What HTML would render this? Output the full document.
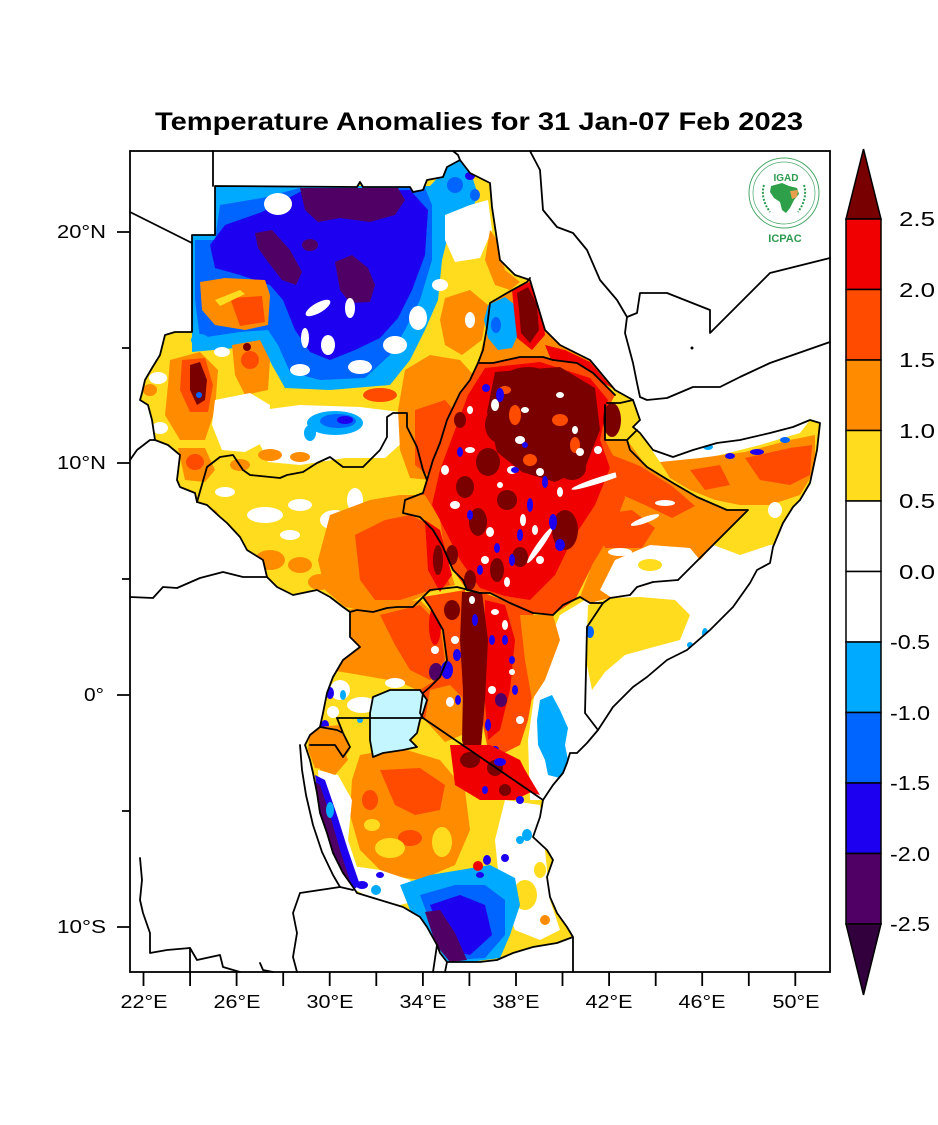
<!DOCTYPE html>
<html><head><meta charset="utf-8"><style>
html,body{margin:0;padding:0;background:#fff;}
svg{display:block;}
text{font-family:"Liberation Sans",Arial,sans-serif;}
</style></head><body>
<svg width="938" height="1125" viewBox="0 0 938 1125" xmlns="http://www.w3.org/2000/svg">
<defs>
<clipPath id="land"><path d="M215,186 L357,187 L360,182 L363,187 L410,187 L413,192 L423,190 L427,180 L443,177 L447,167 L460,160 L470,173 L490,183 L492,207 L500,260 L515,275 L530,280 L545,330 L560,345 L590,360 L615,390 L633,400 L640,420 L633,427 L640,433 L653,450 L673,457 L693,450 L717,443 L740,440 L770,433 L793,427 L810,420 L820,423 L817,450 L810,483 L800,500 L793,507 L783,523 L773,547 L770,563 L757,570 L750,583 L733,607 L710,630 L687,650 L667,660 L647,677 L633,687 L613,707 L598,730 L587,743 L577,753 L570,753 L567,763 L563,773 L553,785 L543,800 L540,817 L533,837 L547,850 L553,860 L547,877 L550,897 L557,913 L567,927 L573,937 L557,943 L533,947 L513,953 L497,960 L480,962 L460,962 L447,962 L440,953 L437,945 L427,927 L420,917 L403,907 L380,900 L357,893 L353,887 L343,873 L333,853 L327,833 L320,813 L317,793 L313,773 L310,760 L305,745 L310,735 L320,727 L323,713 L327,693 L333,677 L343,660 L360,647 L350,637 L350,612 L343,607 L330,597 L317,590 L293,595 L277,587 L267,577 L263,560 L247,550 L240,537 L227,523 L220,517 L207,505 L197,502 L195,493 L180,487 L177,480 L180,455 L168,445 L155,440 L152,420 L148,405 L140,400 L142,393 L145,380 L152,368 L160,355 L165,335 L175,332 L192,332 L192,235 L215,235 Z"/></clipPath>
</defs>

<text x="479" y="130" font-size="25" font-weight="bold" text-anchor="middle" textLength="648" lengthAdjust="spacingAndGlyphs">Temperature Anomalies for 31 Jan-07 Feb 2023</text>

<g clip-path="url(#land)">
<rect x="130" y="151" width="700" height="821" fill="#ffdc1e"/>
<!-- white Somalia / E Kenya -->
<path fill="#fff" d="M530,800 L528,740 L535,690 L545,650 L560,615 L585,600 L615,590 L640,575 L660,545 L700,540 L740,555 L770,545 L830,540 L830,800 Z"/>
<path fill="#ffdc1e" d="M588,605 L610,598 L640,597 L675,600 L690,615 L680,640 L650,648 L625,655 L605,672 L592,690 L586,660 Z"/>
<g fill="#00aaff"><ellipse cx="705" cy="633" rx="3" ry="5"/><ellipse cx="690" cy="645" rx="3" ry="3"/><ellipse cx="650" cy="678" rx="3" ry="3"/><ellipse cx="670" cy="665" rx="3" ry="3"/><ellipse cx="625" cy="700" rx="3" ry="3"/></g>
<ellipse cx="590" cy="632" rx="4" ry="6" fill="#0064ff"/>
<path fill="#00aaff" d="M540,700 L552,695 L560,710 L568,728 L565,745 L570,770 L560,778 L548,775 L545,760 L538,745 L537,720 Z"/>

<!-- North Sudan -->
<path fill="#00aaff" d="M192,235 L215,235 L215,186 L430,186 L447,168 L460,160 L472,176 L478,195 L470,215 L450,228 L442,260 L438,300 L425,330 L410,360 L390,385 L330,390 L285,388 L272,365 L262,345 L235,348 L192,352 Z"/>
<path fill="#fff" d="M445,215 L470,205 L488,200 L492,230 L480,258 L455,262 L445,240 Z"/>
<path fill="#0064ff" d="M195,240 L215,240 L220,205 L262,198 L300,188 L425,188 L432,205 L432,260 L420,300 L405,330 L390,355 L365,378 L320,380 L290,372 L278,345 L268,330 L240,332 L200,338 L195,300 Z"/>
<path fill="#1e00f0" d="M225,225 L262,212 L300,192 L410,190 L428,210 L425,255 L412,290 L398,318 L380,338 L355,350 L330,360 L310,352 L295,330 L283,300 L270,285 L240,275 L215,268 L210,245 Z"/>
<ellipse cx="278" cy="204" rx="14" ry="11" fill="#fff"/>
<g fill="#500064">
<path d="M300,188 L398,188 L405,200 L395,215 L370,222 L340,218 L318,222 L305,210 Z"/>
<path d="M255,233 L272,230 L290,250 L302,272 L296,285 L282,280 L268,262 L258,248 Z"/>
<path d="M335,262 L352,255 L368,268 L375,285 L370,302 L350,303 L340,290 Z"/>
<ellipse cx="310" cy="245" rx="8" ry="6"/>
</g>
<g fill="#fff">
<ellipse cx="318" cy="308" rx="14" ry="5" transform="rotate(-30 318 308)"/>
<ellipse cx="350" cy="308" rx="5" ry="10"/>
<ellipse cx="305" cy="338" rx="4" ry="10"/>
<ellipse cx="328" cy="345" rx="7" ry="10"/>
<ellipse cx="360" cy="367" rx="12" ry="7"/>
<ellipse cx="395" cy="345" rx="12" ry="9"/>
<ellipse cx="418" cy="318" rx="9" ry="12"/>
<ellipse cx="300" cy="370" rx="10" ry="6"/>
<ellipse cx="440" cy="285" rx="8" ry="6"/>
</g>
<g fill="#0064ff"><ellipse cx="455" cy="185" rx="8" ry="8"/><ellipse cx="475" cy="195" rx="5" ry="6"/></g>
<ellipse cx="470" cy="176" rx="5" ry="4" fill="#1e00f0"/>
<!-- NW orange block -->
<path fill="#ff8c00" d="M200,282 L225,278 L265,280 L270,295 L268,325 L245,330 L215,325 L202,310 Z"/>
<path fill="#ff4b00" d="M230,298 L262,296 L265,322 L240,326 Z"/>
<path fill="#ffdc1e" d="M215,300 L240,290 L245,294 L220,306 Z"/>
<!-- Darfur -->
<ellipse cx="200" cy="340" rx="9" ry="6" fill="#00aaff"/>
<path fill="#ff8c00" d="M170,360 L200,352 L218,370 L215,410 L205,440 L180,440 L165,415 L168,385 Z"/>
<path fill="#ff4b00" d="M182,360 L205,358 L213,385 L208,412 L190,412 L180,390 Z"/>
<path fill="#7a0000" d="M190,365 L200,362 L207,380 L205,400 L197,405 L190,390 Z"/>
<ellipse cx="199" cy="395" rx="3" ry="3" fill="#0064ff"/>
<path fill="#ff8c00" d="M232,345 L260,340 L270,360 L268,390 L245,395 L235,375 Z"/>
<ellipse cx="250" cy="360" rx="9" ry="9" fill="#ff4b00"/>
<ellipse cx="247" cy="347" rx="4" ry="4" fill="#7a0000"/>
<ellipse cx="150" cy="390" rx="7" ry="6" fill="#ff8c00"/>
<g fill="#fff"><ellipse cx="158" cy="378" rx="9" ry="6"/><ellipse cx="222" cy="352" rx="8" ry="5"/><ellipse cx="160" cy="428" rx="8" ry="6"/></g>
<path fill="#fff" d="M215,400 L250,393 L270,405 L268,440 L245,452 L222,450 L212,425 Z"/>
<path fill="#ff8c00" d="M178,448 L205,448 L215,470 L205,482 L185,480 Z"/>
<ellipse cx="195" cy="462" rx="9" ry="8" fill="#ff4b00"/>
<!-- Central Sudan -->
<ellipse cx="380" cy="395" rx="17" ry="7" fill="#ff4b00"/>
<path fill="#fff" d="M262,410 L300,405 L360,407 L400,412 L405,440 L385,458 L345,458 L300,465 L268,462 L258,440 Z"/>
<ellipse cx="335" cy="423" rx="28" ry="12" fill="#00aaff"/>
<ellipse cx="338" cy="421" rx="18" ry="7" fill="#0064ff"/>
<ellipse cx="345" cy="420" rx="8" ry="4" fill="#1e00f0"/>
<ellipse cx="310" cy="433" rx="6" ry="8" fill="#00aaff"/>
<ellipse cx="270" cy="455" rx="12" ry="6" fill="#ff8c00"/>
<ellipse cx="300" cy="457" rx="10" ry="5" fill="#ff8c00"/>
<ellipse cx="240" cy="465" rx="10" ry="6" fill="#ff8c00"/>
<!-- East Sudan -->
<path fill="#ff8c00" d="M445,298 L470,290 L488,305 L482,340 L462,355 L445,345 L440,320 Z"/>
<path fill="#ff8c00" d="M405,370 L430,355 L460,360 L478,380 L470,420 L455,450 L440,470 L430,480 L410,478 L400,450 L398,410 Z"/>
<path fill="#ff4b00" d="M415,410 L445,400 L462,420 L450,455 L432,478 L415,465 Z"/>
<path fill="#ff8c00" d="M490,230 L497,240 L505,270 L520,282 L510,290 L495,285 L485,260 Z"/>
<ellipse cx="470" cy="320" rx="5" ry="8" fill="#fff"/>
<!-- Eritrea -->
<path fill="#ff8c00" d="M490,303 L507,293 L530,280 L545,330 L560,345 L590,360 L615,390 L603,383 L593,373 L577,363 L553,360 L543,357 L520,357 L493,363 L478,363 L487,327 Z"/>
<path fill="#00aaff" d="M488,305 L505,297 L515,305 L520,330 L512,348 L498,350 L488,338 L484,320 Z"/>
<ellipse cx="496" cy="325" rx="5" ry="8" fill="#0064ff"/>
<path fill="#f00000" d="M512,290 L530,282 L542,305 L545,335 L532,350 L517,338 L514,310 Z"/>
<path fill="#7a0000" d="M517,293 L528,287 L537,305 L539,330 L530,343 L521,333 L519,310 Z"/>
<path fill="#f00000" d="M545,345 L565,350 L590,362 L612,388 L595,378 L575,368 L552,362 Z"/>
<!-- Ethiopia -->
<path fill="#ff4b00" d="M478,363 L493,363 L520,357 L543,357 L553,360 L577,363 L593,373 L603,383 L615,395 L607,410 L605,440 L627,440 L640,470 L630,510 L610,540 L590,570 L575,600 L553,615 L533,613 L510,603 L490,593 L467,590 L453,570 L443,547 L433,530 L420,517 L403,513 L405,500 L423,493 L427,480 L433,460 L447,420 L460,393 L470,380 Z"/>
<path fill="#f00000" d="M485,368 L540,362 L590,378 L608,400 L600,440 L610,468 L595,505 L572,540 L555,575 L530,600 L505,596 L480,588 L460,560 L445,530 L432,505 L440,470 L455,430 L468,395 Z"/>
<path fill="#7a0000" d="M495,372 L560,367 L595,388 L600,430 L585,468 L555,482 L522,472 L497,452 L487,412 Z"/>
<g fill="#7a0000">
<ellipse cx="528" cy="387" rx="30" ry="20"/>
<ellipse cx="500" cy="425" rx="15" ry="18"/>
<ellipse cx="545" cy="440" rx="22" ry="25"/>
<ellipse cx="572" cy="468" rx="14" ry="12"/>
<ellipse cx="612" cy="420" rx="9" ry="17"/>
<ellipse cx="585" cy="410" rx="10" ry="10"/>
<ellipse cx="488" cy="462" rx="12" ry="14"/>
<ellipse cx="465" cy="487" rx="9" ry="11"/>
<ellipse cx="478" cy="522" rx="9" ry="14"/>
<ellipse cx="507" cy="500" rx="10" ry="10"/>
<ellipse cx="565" cy="530" rx="13" ry="20"/>
<ellipse cx="452" cy="555" rx="6" ry="10"/>
<ellipse cx="520" cy="557" rx="8" ry="10"/>
<ellipse cx="497" cy="570" rx="7" ry="12"/>
<ellipse cx="470" cy="580" rx="6" ry="10"/>
<ellipse cx="460" cy="420" rx="6" ry="8"/>
</g>
<g fill="#ff4b00">
<ellipse cx="515" cy="415" rx="6" ry="10"/><ellipse cx="560" cy="420" rx="8" ry="6"/><ellipse cx="530" cy="460" rx="7" ry="6"/>
<ellipse cx="575" cy="445" rx="5" ry="8"/><ellipse cx="505" cy="390" rx="6" ry="4"/>
</g>
<g fill="#fff">
<ellipse cx="495" cy="405" rx="4" ry="6"/><ellipse cx="520" cy="440" rx="5" ry="4"/><ellipse cx="540" cy="472" rx="4" ry="4"/>
<ellipse cx="470" cy="450" rx="5" ry="3"/><ellipse cx="580" cy="452" rx="4" ry="4"/><ellipse cx="512" cy="470" rx="5" ry="4"/>
<ellipse cx="455" cy="505" rx="5" ry="4"/><ellipse cx="490" cy="532" rx="4" ry="5"/><ellipse cx="523" cy="520" rx="3" ry="6"/>
<ellipse cx="540" cy="560" rx="4" ry="4"/><ellipse cx="560" cy="492" rx="3" ry="5"/><ellipse cx="598" cy="450" rx="4" ry="4"/>
<ellipse cx="525" cy="410" rx="4" ry="3"/><ellipse cx="485" cy="560" rx="4" ry="4"/><ellipse cx="507" cy="582" rx="3" ry="5"/>
<ellipse cx="470" cy="410" rx="3" ry="4"/><ellipse cx="560" cy="395" rx="4" ry="3"/><ellipse cx="445" cy="470" rx="4" ry="5"/>
<ellipse cx="500" cy="485" rx="3" ry="3"/><ellipse cx="535" cy="530" rx="3" ry="5"/><ellipse cx="575" cy="430" rx="3" ry="4"/>
<ellipse cx="600" cy="480" rx="30" ry="3" transform="rotate(-18 600 480)"/>
<ellipse cx="540" cy="545" rx="22" ry="3" transform="rotate(-55 540 545)"/>
</g>
<g fill="#1e00f0">
<ellipse cx="500" cy="395" rx="4" ry="7"/><ellipse cx="460" cy="452" rx="3" ry="5"/><ellipse cx="515" cy="470" rx="4" ry="3"/>
<ellipse cx="545" cy="482" rx="3" ry="6"/><ellipse cx="530" cy="505" rx="3" ry="7"/><ellipse cx="553" cy="522" rx="4" ry="8"/>
<ellipse cx="560" cy="545" rx="5" ry="6"/><ellipse cx="520" cy="535" rx="3" ry="6"/><ellipse cx="497" cy="548" rx="3" ry="5"/>
<ellipse cx="470" cy="515" rx="3" ry="5"/><ellipse cx="525" cy="445" rx="3" ry="3"/><ellipse cx="480" cy="570" rx="3" ry="5"/>
<ellipse cx="512" cy="560" rx="3" ry="6"/><ellipse cx="486" cy="388" rx="4" ry="4"/>
</g>
<!-- East Ethiopia -->
<path fill="#ff8c00" d="M605,440 L627,440 L647,467 L673,483 L697,497 L727,510 L748,510 L720,538 L700,560 L678,580 L653,582 L630,595 L610,598 L590,603 L580,597 L592,565 L612,532 L625,498 L618,465 Z"/>
<path fill="#ff4b00" d="M612,455 L640,466 L672,486 L695,506 L672,518 L645,505 L620,494 Z"/>
<path fill="#ff4b00" d="M595,515 L632,510 L655,528 L642,548 L605,548 Z"/>
<g fill="#fff"><ellipse cx="645" cy="520" rx="15" ry="3" transform="rotate(-20 645 520)"/><ellipse cx="665" cy="503" rx="10" ry="3"/><ellipse cx="620" cy="552" rx="12" ry="4"/></g>
<path fill="#fff" d="M615,560 L650,545 L690,548 L700,560 L680,580 L653,582 L630,595 L612,598 L600,590 Z"/>
<ellipse cx="650" cy="565" rx="12" ry="6" fill="#ffdc1e"/>
<!-- Somaliland / Puntland -->
<path fill="#fff" d="M640,433 L653,450 L673,457 L693,450 L717,443 L740,440 L770,433 L793,427 L810,420 L800,433 L760,445 L720,455 L690,462 L660,462 Z"/>
<path fill="#ff8c00" d="M660,462 L700,458 L745,452 L790,440 L815,435 L815,470 L800,495 L770,505 L740,505 L715,500 L690,490 L670,478 Z"/>
<path fill="#ff4b00" d="M745,458 L790,448 L812,445 L810,475 L790,485 L760,480 Z"/>
<path fill="#ff4b00" d="M690,470 L720,465 L730,485 L705,490 Z"/>
<ellipse cx="757" cy="452" rx="7" ry="3" fill="#1e00f0"/>
<ellipse cx="730" cy="456" rx="5" ry="3" fill="#1e00f0"/>
<ellipse cx="785" cy="440" rx="5" ry="3" fill="#0064ff"/>
<ellipse cx="708" cy="447" rx="5" ry="3" fill="#00aaff"/>
<ellipse cx="775" cy="510" rx="7" ry="8" fill="#fff"/>
<!-- South Sudan -->
<g fill="#fff"><ellipse cx="265" cy="515" rx="18" ry="8"/><ellipse cx="300" cy="505" rx="12" ry="6"/><ellipse cx="335" cy="520" rx="15" ry="10"/><ellipse cx="355" cy="500" rx="8" ry="12"/><ellipse cx="290" cy="535" rx="10" ry="5"/><ellipse cx="225" cy="492" rx="10" ry="5"/></g>
<g fill="#ff8c00"><ellipse cx="270" cy="560" rx="15" ry="10"/><ellipse cx="300" cy="565" rx="12" ry="8"/><ellipse cx="235" cy="545" rx="8" ry="6"/><ellipse cx="320" cy="582" rx="12" ry="8"/><ellipse cx="210" cy="515" rx="8" ry="6"/></g>
<path fill="#ff8c00" d="M330,515 L370,500 L400,495 L425,495 L440,520 L445,555 L455,585 L430,592 L400,607 L370,612 L345,607 L325,590 L318,560 Z"/>
<path fill="#ff4b00" d="M355,535 L385,520 L410,515 L430,525 L440,555 L450,585 L425,592 L400,600 L375,600 L360,580 Z"/>
<path fill="#f00000" d="M425,520 L440,530 L452,575 L440,592 L428,570 Z"/>
<ellipse cx="438" cy="560" rx="5" ry="15" fill="#7a0000"/>
<!-- Uganda -->
<path fill="#ff8c00" d="M345,610 L380,605 L420,600 L440,620 L447,655 L440,680 L420,690 L380,688 L345,680 L330,665 L340,640 Z"/>
<path fill="#ff4b00" d="M380,615 L420,605 L440,625 L445,660 L430,680 L410,670 L395,645 Z"/>
<ellipse cx="435" cy="625" rx="6" ry="20" fill="#f00000"/>
<path fill="#ffdc1e" d="M330,670 L360,675 L400,682 L423,693 L423,718 L323,718 L327,690 Z"/>
<g fill="#fff"><ellipse cx="340" cy="690" rx="10" ry="10"/><ellipse cx="362" cy="705" rx="15" ry="8"/><ellipse cx="333" cy="712" rx="6" ry="6"/><ellipse cx="395" cy="683" rx="10" ry="5"/></g>
<g fill="#00aaff"><ellipse cx="343" cy="695" rx="3" ry="5"/><ellipse cx="360" cy="720" rx="3" ry="3"/></g>
<ellipse cx="436" cy="672" rx="7" ry="9" fill="#500064"/>
<ellipse cx="330" cy="693" rx="4" ry="6" fill="#1e00f0"/>
<ellipse cx="325" cy="725" rx="4" ry="5" fill="#1e00f0"/>
<path fill="#ff8c00" d="M310,728 L340,725 L350,750 L335,770 L315,768 L308,750 Z"/>
<!-- Kenya -->
<path fill="#ff4b00" d="M423,597 L465,590 L468,650 L465,720 L445,740 L423,718 L420,690 L440,677 L447,660 L443,630 Z"/>
<path fill="#ff8c00" d="M430,690 L450,685 L465,700 L462,735 L445,742 L425,720 Z"/>
<path fill="#ff4b00" d="M482,592 L510,603 L533,613 L540,640 L535,680 L528,720 L520,745 L490,760 L482,720 L488,660 Z"/>
<path fill="#ff8c00" d="M520,615 L553,615 L560,640 L545,680 L532,700 L525,660 Z"/>
<path fill="#f00000" d="M485,600 L505,605 L515,640 L510,690 L500,730 L488,740 L484,690 Z"/>
<path fill="#7a0000" d="M462,592 L482,592 L488,640 L485,700 L480,760 L470,775 L462,740 L463,690 L460,640 Z"/>
<path fill="#f00000" d="M470,745 L500,750 L525,770 L540,795 L520,790 L490,780 L475,770 Z"/>
<g fill="#7a0000"><ellipse cx="500" cy="765" rx="10" ry="8"/><ellipse cx="452" cy="610" rx="8" ry="10"/></g>
<g fill="#1e00f0">
<ellipse cx="503" cy="765" rx="5" ry="4"/><ellipse cx="447" cy="670" rx="6" ry="9"/><ellipse cx="457" cy="655" rx="4" ry="6"/>
<ellipse cx="475" cy="620" rx="3" ry="6"/><ellipse cx="492" cy="640" rx="3" ry="5"/><ellipse cx="505" cy="640" rx="3" ry="5"/>
<ellipse cx="515" cy="690" rx="3" ry="5"/><ellipse cx="488" cy="725" rx="3" ry="6"/><ellipse cx="495" cy="750" rx="4" ry="4"/>
<ellipse cx="458" cy="700" rx="3" ry="5"/><ellipse cx="512" cy="660" rx="3" ry="4"/>
</g>
<ellipse cx="501" cy="700" rx="6" ry="7" fill="#500064"/>
<g fill="#fff">
<ellipse cx="472" cy="600" rx="3" ry="4"/><ellipse cx="495" cy="612" rx="4" ry="3"/><ellipse cx="505" cy="625" rx="3" ry="5"/>
<ellipse cx="455" cy="640" rx="4" ry="4"/><ellipse cx="492" cy="690" rx="4" ry="4"/><ellipse cx="512" cy="672" rx="3" ry="3"/>
<ellipse cx="520" cy="720" rx="4" ry="4"/><ellipse cx="450" cy="702" rx="4" ry="5"/><ellipse cx="435" cy="650" rx="4" ry="4"/>
</g>
<!-- Tanzania -->
<path fill="#ff8c00" d="M360,755 L400,748 L440,760 L465,790 L470,830 L455,865 L420,880 L385,875 L360,850 L350,815 L352,780 Z"/>
<path fill="#ff4b00" d="M380,770 L420,768 L445,785 L440,810 L415,815 L395,805 Z"/>
<g fill="#ff4b00"><ellipse cx="410" cy="838" rx="12" ry="8"/><ellipse cx="370" cy="800" rx="8" ry="10"/></g>
<g fill="#ffdc1e"><ellipse cx="390" cy="848" rx="15" ry="10"/><ellipse cx="442" cy="842" rx="10" ry="15"/><ellipse cx="372" cy="825" rx="8" ry="6"/></g>
<path fill="#fff" d="M318,770 L338,775 L352,800 L348,840 L358,870 L345,880 L330,850 L320,815 Z"/>
<path fill="#fff" d="M505,800 L540,805 L545,850 L550,900 L560,930 L540,940 L515,930 L500,890 L495,840 Z"/>
<g fill="#ffdc1e"><ellipse cx="525" cy="895" rx="12" ry="15"/><ellipse cx="540" cy="870" rx="6" ry="8"/></g>
<ellipse cx="545" cy="920" rx="5" ry="5" fill="#ff8c00"/>
<path fill="#fff" d="M345,865 L380,870 L410,880 L420,900 L400,905 L370,897 L355,890 Z"/>
<path fill="#00aaff" d="M400,885 L430,875 L460,870 L490,865 L515,878 L520,905 L510,935 L500,958 L470,962 L447,962 L430,935 L410,910 Z"/>
<path fill="#0064ff" d="M420,895 L455,885 L485,885 L505,900 L505,935 L485,958 L455,960 L435,935 Z"/>
<path fill="#1e00f0" d="M430,905 L460,895 L485,905 L492,935 L470,955 L448,950 Z"/>
<path fill="#500064" d="M425,912 L440,910 L455,933 L467,960 L450,962 L436,945 Z"/>
<path fill="#1e00f0" d="M315,775 L325,780 L337,815 L348,850 L360,885 L350,892 L335,860 L322,825 Z"/>
<path fill="#500064" d="M312,780 L320,785 L330,815 L340,850 L352,887 L343,888 L332,862 L320,830 L313,800 Z"/>
<g fill="#1e00f0"><ellipse cx="362" cy="885" rx="6" ry="4"/><ellipse cx="380" cy="875" rx="4" ry="3"/></g>
<ellipse cx="376" cy="890" rx="5" ry="5" fill="#00aaff"/>
<path fill="#f00000" d="M450,745 L490,745 L520,760 L535,790 L515,800 L480,800 L455,785 Z"/>
<g fill="#7a0000"><ellipse cx="470" cy="760" rx="10" ry="8"/><ellipse cx="495" cy="768" rx="8" ry="8"/><ellipse cx="505" cy="790" rx="6" ry="6"/></g>
<g fill="#1e00f0"><ellipse cx="500" cy="762" rx="6" ry="4"/><ellipse cx="485" cy="790" rx="3" ry="4"/><ellipse cx="520" cy="800" rx="4" ry="4"/><ellipse cx="487" cy="860" rx="4" ry="5"/><ellipse cx="505" cy="858" rx="4" ry="4"/><ellipse cx="480" cy="875" rx="4" ry="3"/></g>
<ellipse cx="478" cy="866" rx="5" ry="5" fill="#f00000"/>
<g fill="#00aaff"><ellipse cx="520" cy="840" rx="4" ry="4"/><ellipse cx="527" cy="835" rx="5" ry="6"/><ellipse cx="330" cy="810" rx="4" ry="8"/></g>
<path fill="#ff8c00" d="M318,740 L340,738 L348,760 L335,775 L320,770 Z"/>
</g>

<!-- Lake Victoria -->
<path d="M373,697 L390,690 L420,690 L427,700 L423,713 L420,720 L417,733 L410,740 L417,747 L403,750 L383,753 L373,757 L370,740 L370,713 Z" fill="#c4f6ff" stroke="#000" stroke-width="1.8" stroke-linejoin="round"/>

<!-- borders -->
<g fill="none" stroke="#000" stroke-width="1.8" stroke-linejoin="round" stroke-linecap="round">
<path d="M215,186 L357,187 L360,182 L363,187 L410,187 L413,192 L423,190 L427,180 L443,177 L447,167 L460,160 L470,173 L490,183 L492,207 L500,260 L515,275 L530,280 L545,330 L560,345 L590,360 L615,390 L633,400 L640,420 L633,427 L640,433 L653,450 L673,457 L693,450 L717,443 L740,440 L770,433 L793,427 L810,420 L820,423 L817,450 L810,483 L800,500 L793,507 L783,523 L773,547 L770,563 L757,570 L750,583 L733,607 L710,630 L687,650 L667,660 L647,677 L633,687 L613,707 L598,730 L587,743 L577,753 L570,753 L567,763 L563,773 L553,785 L543,800 L540,817 L533,837 L547,850 L553,860 L547,877 L550,897 L557,913 L567,927 L573,937 L573,972 M573,937 L557,943 L533,947 L513,953 L497,960 L480,962 L460,962 L447,962 L440,953 L437,945 L427,927 L420,917 L403,907 L380,900 L357,893 L353,887 L343,873 L333,853 L327,833 L320,813 L317,793 L313,773 L310,760 L305,745 L310,735 L320,727 L323,713 L327,693 L333,677 L343,660 L360,647 L350,637 L350,612 L343,607 L330,597 L317,590 L293,595 L277,587 L267,577 L263,560 L247,550 L240,537 L227,523 L220,517 L207,505 L197,502 L195,493 L180,487 L177,480 L180,455 L168,445 L155,440 L152,420 L148,405 L140,400 L142,393 L145,380 L152,368 L160,355 L165,335 L175,332 L192,332 L192,235 L215,235 L215,186"/>
<path d="M197,502 L207,467 L220,457 L233,455 L243,470 L250,475 L280,478 L287,475 L303,472 L317,463 L330,457 L343,467 L363,467 L380,450 L387,437 L387,417 L393,413 L407,413 L407,427 L417,447 L423,470 L427,480"/>
<path d="M427,480 L433,460 L440,443 L447,420 L460,393 L470,380 L478,363 L483,350 L487,327 L490,303 L507,293 L527,282 L530,278"/>
<path d="M478,363 L493,363 L520,357 L543,357 L553,360 L577,363 L593,373 L603,383 L615,395"/>
<path d="M607,403 L620,403 L633,400 M605,405 L605,440 L627,440 L637,430 M627,440 L630,450 L647,467 L673,483 L697,497 L727,510 L748,510 L678,580"/>
<path d="M427,480 L423,493 L405,500 L403,513 L420,517 L433,530 L443,547 L453,570 L463,580 L467,590 L480,593"/>
<path d="M480,593 L490,593 L510,603 L533,613 L553,615 L563,605 L580,597 L590,603 L603,603 L610,598 L630,595 L637,587 L653,582 L678,580"/>
<path d="M603,603 L587,627 L585,713 L598,730"/>
<path d="M480,593 L457,587 L430,590 L423,597 L413,607 L397,607 L387,608 L373,612 L357,610 L350,612"/>
<path d="M423,597 L430,607 L443,630 L447,660 L440,677 L430,687 L423,693 L420,713 L423,718 L543,800"/>
<path d="M337,718 L423,718"/>
<path d="M320,727 L337,730 L343,733 M310,745 L335,745 L343,757 M337,718 L343,733 L350,747 L343,757"/>
<path d="M213,151 L213,186"/>
<path d="M130,212 L192,243"/>
<path d="M130,460 L137,450 L150,440 L155,440"/>
<path d="M130,597 L153,598 L163,587 L177,588 L200,578 L223,572 L243,577 L267,577"/>
<path d="M140,858 L142,880 L140,900 L143,913 L150,933 L150,953 L167,950 L190,948 L197,960 L220,955 L223,967 L240,972"/>
<path d="M190,948 L190,972 M260,963 L263,970 L273,972"/>
<path d="M300,893 L293,913 L297,933 L293,957 L297,972 M300,893 L340,887 L353,890"/>
<path d="M300,745 L302,770 L306,795 L313,825 L322,852 L333,875 L340,887"/>
<path d="M437,945 L433,972 M447,962 L445,972"/>
<path d="M453,151 L458,155 L460,160"/>
<path d="M530,151 L540,170 L543,210 L557,227 L573,233 L587,250 L600,280 L617,300 L627,317 L625,333 L633,363 L637,383 L640,397 L647,400 L667,398 L693,387 L720,387 L740,377 L770,363 L830,342"/>
<path d="M627,317 L637,313 L640,293 L667,293 L710,310 L710,333 L770,273 L830,258"/>
</g>
<circle cx="692" cy="348" r="1.5" fill="#000"/>

<!-- frame -->
<rect x="130" y="151" width="700" height="821" fill="none" stroke="#000" stroke-width="1.8"/>

<!-- ticks -->
<g stroke="#000" stroke-width="1.8">
<path d="M117,232 H130 M122,348 H130 M117,463 H130 M122,579 H130 M117,695 H130 M122,811 H130 M117,927 H130"/>
<path d="M143.5,972 V986 M190.1,972 V986 M236.6,972 V986 M283.2,972 V986 M329.7,972 V986 M376.3,972 V986 M422.9,972 V986 M469.4,972 V986 M516,972 V986 M562.5,972 V986 M609.1,972 V986 M655.7,972 V986 M702.2,972 V986 M748.8,972 V986 M795.3,972 V986"/>
</g>
<g font-size="18" fill="#000">
<text x="57" y="238" textLength="49" lengthAdjust="spacingAndGlyphs">20°N</text>
<text x="57" y="469" textLength="49" lengthAdjust="spacingAndGlyphs">10°N</text>
<text x="84" y="701" textLength="20" lengthAdjust="spacingAndGlyphs">0°</text>
<text x="57" y="933" textLength="49" lengthAdjust="spacingAndGlyphs">10°S</text>
</g>
<g font-size="18" fill="#000" text-anchor="middle">
<text x="144" y="1008" textLength="47" lengthAdjust="spacingAndGlyphs">22°E</text>
<text x="237" y="1008" textLength="47" lengthAdjust="spacingAndGlyphs">26°E</text>
<text x="330" y="1008" textLength="47" lengthAdjust="spacingAndGlyphs">30°E</text>
<text x="423" y="1008" textLength="47" lengthAdjust="spacingAndGlyphs">34°E</text>
<text x="516" y="1008" textLength="47" lengthAdjust="spacingAndGlyphs">38°E</text>
<text x="609" y="1008" textLength="47" lengthAdjust="spacingAndGlyphs">42°E</text>
<text x="702" y="1008" textLength="47" lengthAdjust="spacingAndGlyphs">46°E</text>
<text x="796" y="1008" textLength="47" lengthAdjust="spacingAndGlyphs">50°E</text>
</g>

<!-- colorbar -->
<g stroke="#000" stroke-width="1.5" stroke-linejoin="miter">
<path d="M863.5,149 L881,219 L846,219 Z" fill="#780000"/>
<rect x="846" y="219" width="35" height="70.5" fill="#f00000"/>
<rect x="846" y="289.5" width="35" height="70.5" fill="#ff4b00"/>
<rect x="846" y="360" width="35" height="70.5" fill="#ff8c00"/>
<rect x="846" y="430.5" width="35" height="70.5" fill="#ffdc1e"/>
<rect x="846" y="501" width="35" height="70.5" fill="#fff"/>
<rect x="846" y="571.5" width="35" height="70.5" fill="#fff"/>
<rect x="846" y="642" width="35" height="70.5" fill="#00aaff"/>
<rect x="846" y="712.5" width="35" height="70.5" fill="#0064ff"/>
<rect x="846" y="783" width="35" height="70.5" fill="#1e00f0"/>
<rect x="846" y="853.5" width="35" height="70.5" fill="#500064"/>
<path d="M846,924 L881,924 L863.5,995 Z" fill="#32003c"/>
</g>
<g font-size="20" fill="#000">
<text x="899" y="226" textLength="36" lengthAdjust="spacingAndGlyphs">2.5</text>
<text x="899" y="297" textLength="36" lengthAdjust="spacingAndGlyphs">2.0</text>
<text x="899" y="367" textLength="36" lengthAdjust="spacingAndGlyphs">1.5</text>
<text x="899" y="438" textLength="36" lengthAdjust="spacingAndGlyphs">1.0</text>
<text x="899" y="508" textLength="36" lengthAdjust="spacingAndGlyphs">0.5</text>
<text x="899" y="579" textLength="36" lengthAdjust="spacingAndGlyphs">0.0</text>
<text x="890" y="649" textLength="40" lengthAdjust="spacingAndGlyphs">-0.5</text>
<text x="890" y="720" textLength="40" lengthAdjust="spacingAndGlyphs">-1.0</text>
<text x="890" y="790" textLength="40" lengthAdjust="spacingAndGlyphs">-1.5</text>
<text x="890" y="861" textLength="40" lengthAdjust="spacingAndGlyphs">-2.0</text>
<text x="890" y="931" textLength="40" lengthAdjust="spacingAndGlyphs">-2.5</text>
</g>

<!-- logo -->
<g>
<circle cx="784" cy="193" r="35" fill="#fff" stroke="#4aa86a" stroke-width="1"/>
<circle cx="784" cy="193" r="31" fill="none" stroke="#4aa86a" stroke-width="0.7"/>
<text x="786" y="181" font-size="10" font-weight="bold" fill="#2e9a50" text-anchor="middle">IGAD</text>
<path d="M771,186 L782,183 L789,186 L797,188 L799,194 L794,200 L790,208 L786,213 L782,210 L780,202 L774,198 L770,192 Z" fill="#2ea04a"/>
<path d="M790,191 L798,190 L797,197 L792,199 Z" fill="#e8a050"/>
<path d="M764,185 Q760,198 770,212 M804,185 Q808,198 798,212" fill="none" stroke="#2e9a50" stroke-width="2" stroke-dasharray="2 1.5"/>
<text x="785" y="242" font-size="11" font-weight="bold" fill="#2e9a50" text-anchor="middle">ICPAC</text>
</g>
</svg>
</body></html>
